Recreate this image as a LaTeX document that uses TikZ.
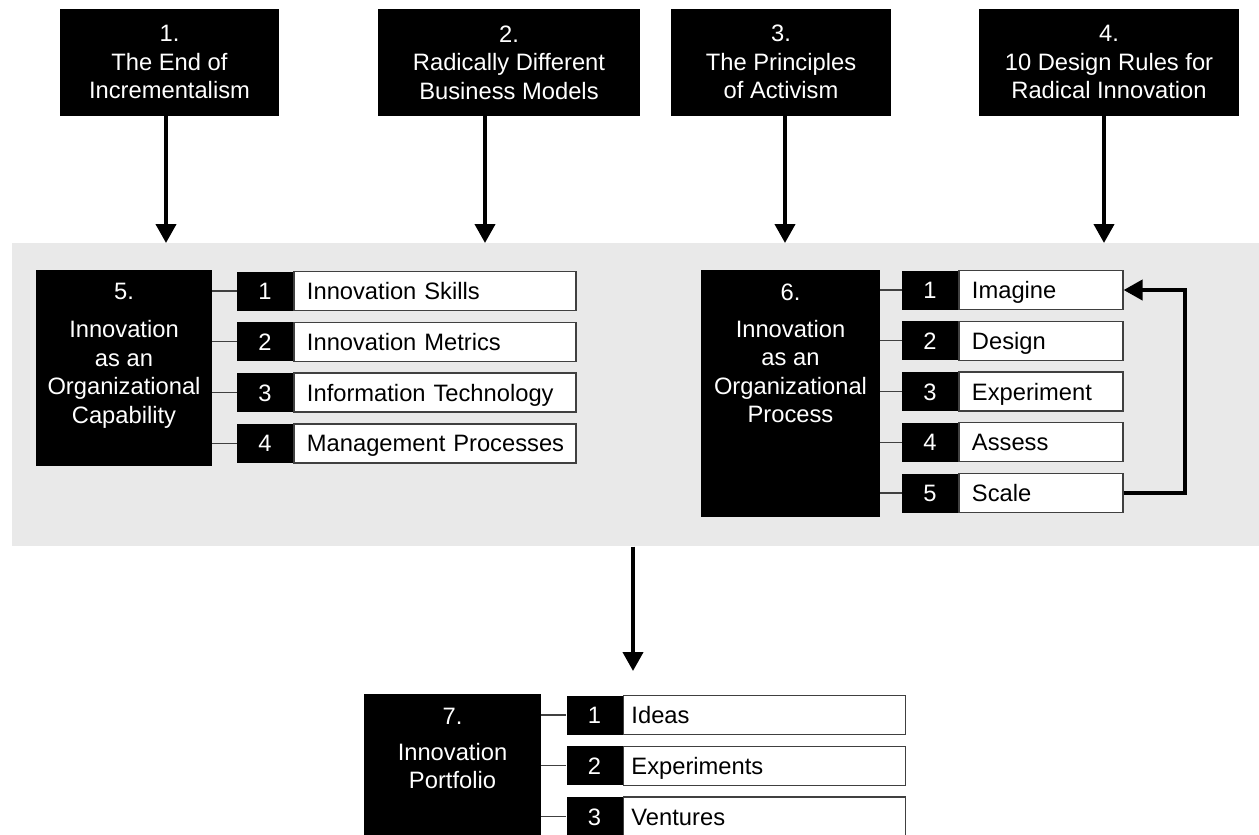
\documentclass[tikz,border=0pt]{standalone}
\usepackage{fontspec}
\setmainfont{Liberation Sans}
\usetikzlibrary{arrows.meta,calc,positioning}
\definecolor{bandgray}{RGB}{233,233,233}
\definecolor{edgegray}{RGB}{64,64,64}
\tikzset{
  diagfont/.style={font=\fontsize{13.5}{16.2}\selectfont},
  headbox/.style={diagfont, fill=black, text=white, align=center, inner sep=0pt, minimum height=2.14cm},
  capbox/.style={fill=black, inner sep=0pt},
  captext/.style={diagfont, text=white, align=center, inner sep=0pt, anchor=north},
  numbox/.style={diagfont, fill=black, text=white, inner sep=0pt, minimum width=1.12cm, minimum height=0.78cm,
    text height=0.38cm, text depth=0.04cm},
  itembox/.style={diagfont, fill=white, draw=edgegray, line width=0.7pt, anchor=west, align=left,
    inner ysep=0pt, minimum height=0.78cm, text height=0.38cm, text depth=0.04cm},
  band/.style={fill=bandgray, inner sep=0pt, anchor=north west, minimum width=25cm, minimum height=6.06cm},
  link/.style={draw=edgegray, line width=0.6pt},
  bigarrow/.style={line width=2.3pt, -{Triangle[width=0.4cm,length=0.38cm]}}
}

\begin{document}
\begin{tikzpicture}
  \useasboundingbox (0,0) rectangle (25.18,-16.68);
  \node[band] (band) at (0.24,-4.86) {};

  \node[headbox, minimum width=4.38cm] (t1) at (3.39,-1.24) {1.\\The End of\\Incrementalism};
  \node[headbox, minimum width=5.24cm] (t2) at (10.18,-1.25) {2.\\Radically Different\\Business Models};
  \node[headbox, minimum width=4.40cm] (t3) at (15.62,-1.24) {3.\\The Principles\\of Activism};
  \node[headbox, minimum width=5.20cm] (t4) at (22.18,-1.24) {4.\\10 Design Rules for\\Radical Innovation};

  \coordinate (a1) at ($(t1.south)+(-0.07,0)$);
  \coordinate (a2) at ($(t2.south)+(-0.48,0)$);
  \coordinate (a3) at ($(t3.south)+(0.08,0)$);
  \coordinate (a4) at ($(t4.south)+(-0.10,0)$);
  \foreach \k in {1,...,4}
    \draw[bigarrow] (a\k) -- (a\k |- band.north);

  \node[capbox, minimum width=3.52cm, minimum height=3.92cm] (cap) at (2.48,-7.36) {};
  \node[captext, below=0.27cm of cap.north] (captxt) {5.\\[5.5pt]Innovation\\as an\\Organizational\\Capability};
  \foreach \txt [count=\n] in {Innovation Skills, Innovation Metrics, Information Technology, Management Processes} {
    \node[numbox] (c\n) at (5.30,{-5.82-(\n-1)*1.016}) {\n};
    \node[itembox, inner xsep=0.26cm, text width=5.12cm] (ct\n) at (c\n.east) {\mbox{\txt}};
    \draw[link] (cap.east |- c\n) -- (c\n);
  }

  \node[capbox, minimum width=3.58cm, minimum height=4.94cm] (proc) at (15.81,-7.87) {};
  \node[captext, below=0.27cm of proc.north] (proctxt) {6.\\[5pt]Innovation\\as an\\Organizational\\Process};
  \foreach \txt [count=\n] in {Imagine, Design, Experiment, Assess, Scale} {
    \node[numbox] (p\n) at (18.60,{-5.80-(\n-1)*1.015}) {\n};
    \node[itembox, inner xsep=0.26cm, text width=2.76cm] (pt\n) at (p\n.east) {\mbox{\txt}};
    \draw[link] (proc.east |- p\n) -- (p\n);
  }
  \draw[bigarrow] (pt5.east) -- ++(1.22,0) |- (pt1.east);

  \coordinate (portin) at (12.66,-13.42);
  \draw[bigarrow] (band.south -| portin) -- (portin);

  \node[capbox, minimum width=3.54cm, minimum height=3.12cm] (port) at (9.05,-15.44) {};
  \node[captext, below=0.29cm of port.north] (porttxt) {7.\\[4pt]Innovation\\Portfolio};
  \foreach \txt [count=\n] in {Ideas, Experiments, Ventures} {
    \node[numbox] (f\n) at (11.89,{-14.30-(\n-1)*1.015}) {\n};
    \node[itembox, inner xsep=0.16cm, text width=5.32cm] (ft\n) at (f\n.east) {\mbox{\txt}};
    \draw[link] (port.east |- f\n) -- (f\n);
  }
\end{tikzpicture}
\end{document}
